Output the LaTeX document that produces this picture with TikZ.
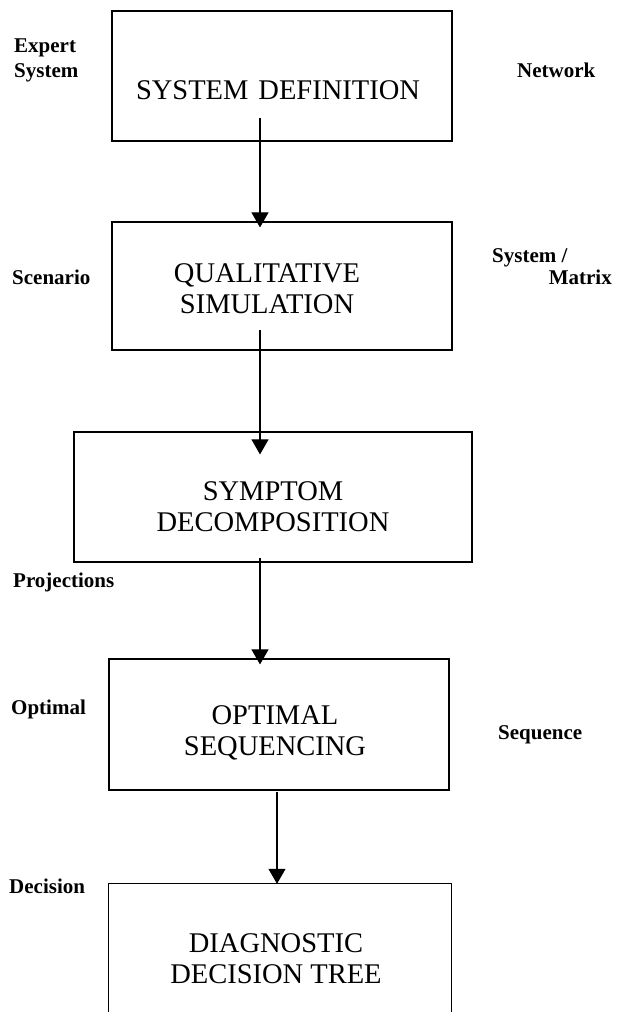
\documentclass[tikz,border=0pt]{standalone}
\usepackage{fontspec}
\setmainfont{Liberation Serif}
\usetikzlibrary{arrows.meta}
\begin{document}
\begin{tikzpicture}[x=1pt,y=-1pt,
  boxnode/.style={draw, line width=1.2pt, inner sep=0pt, rectangle},
  openbox/.style={inner sep=0pt, rectangle},
  boxtext/.style={font=\fontsize{28.5}{31}\selectfont, align=center, inner sep=0pt},
  sidelabel/.style={font=\fontsize{21}{25}\selectfont\bfseries, align=left, inner sep=0pt},
  flow/.style={line width=1.1pt, -{Triangle[width=17pt,length=15pt]}}]
\useasboundingbox (0,0) rectangle (618,1012);
% boxes
\node[boxnode, minimum width=340pt, minimum height=130pt] (b1) at (282,76) {};
\node[boxnode, minimum width=340pt, minimum height=128pt] (b2) at (282,286) {};
\node[boxnode, minimum width=398pt, minimum height=130pt] (b3) at (273,497) {};
\node[boxnode, minimum width=340pt, minimum height=131pt] (b4) at (279,724.5) {};
\node[openbox, minimum width=342pt, minimum height=132pt] (b5) at (280,950) {};
\draw[line width=1.2pt] (b5.south west) -- (b5.north west) -- (b5.north east) -- (b5.south east);
% box texts
\node[boxtext] (t1) at (278,90.5) {SYSTEM\hspace{10pt}DEFINITION};
\node[boxtext] (t2) at (267,289) {QUALITATIVE\\SIMULATION};
\node[boxtext] (t3) at (273,507) {SYMPTOM\\DECOMPOSITION};
\node[boxtext] (t4) at (275,733) {OPTIMAL\\SEQUENCING};
\node[boxtext] (t5) at (276,959) {DIAGNOSTIC\\DECISION TREE};
% side labels
\node[sidelabel, anchor=west] (l1) at (14,60.5) {Expert\\System};
\node[sidelabel, anchor=base west] (l2) at (517,77) {Network};
\node[sidelabel, anchor=base west] (l3) at (12,284) {Scenario};
\node[sidelabel, anchor=base west] (l4) at (492,262) {System /};
\node[sidelabel, anchor=base east] (l5) at (612,284) {Matrix};
\node[sidelabel, anchor=base west] (l6) at (13,587) {Projections};
\node[sidelabel, anchor=base west] (l7) at (11,714) {Optimal};
\node[sidelabel, anchor=base west] (l8) at (498,739) {Sequence};
\node[sidelabel, anchor=base west] (l9) at (9,893) {Decision};
% arrows
\coordinate (a1) at (260,118);
\coordinate (a2) at (260,330);
\coordinate (a3) at (260,558);
\coordinate (a4) at (277,792);
\draw[flow] (a1) -- ([yshift=-6pt]a1 |- b2.north);
\draw[flow] (a2) -- ([yshift=-23pt]a2 |- b3.north);
\draw[flow] (a3) -- ([yshift=-6pt]a3 |- b4.north);
\draw[flow] (a4) -- (a4 |- b5.north);
\end{tikzpicture}
\end{document}
